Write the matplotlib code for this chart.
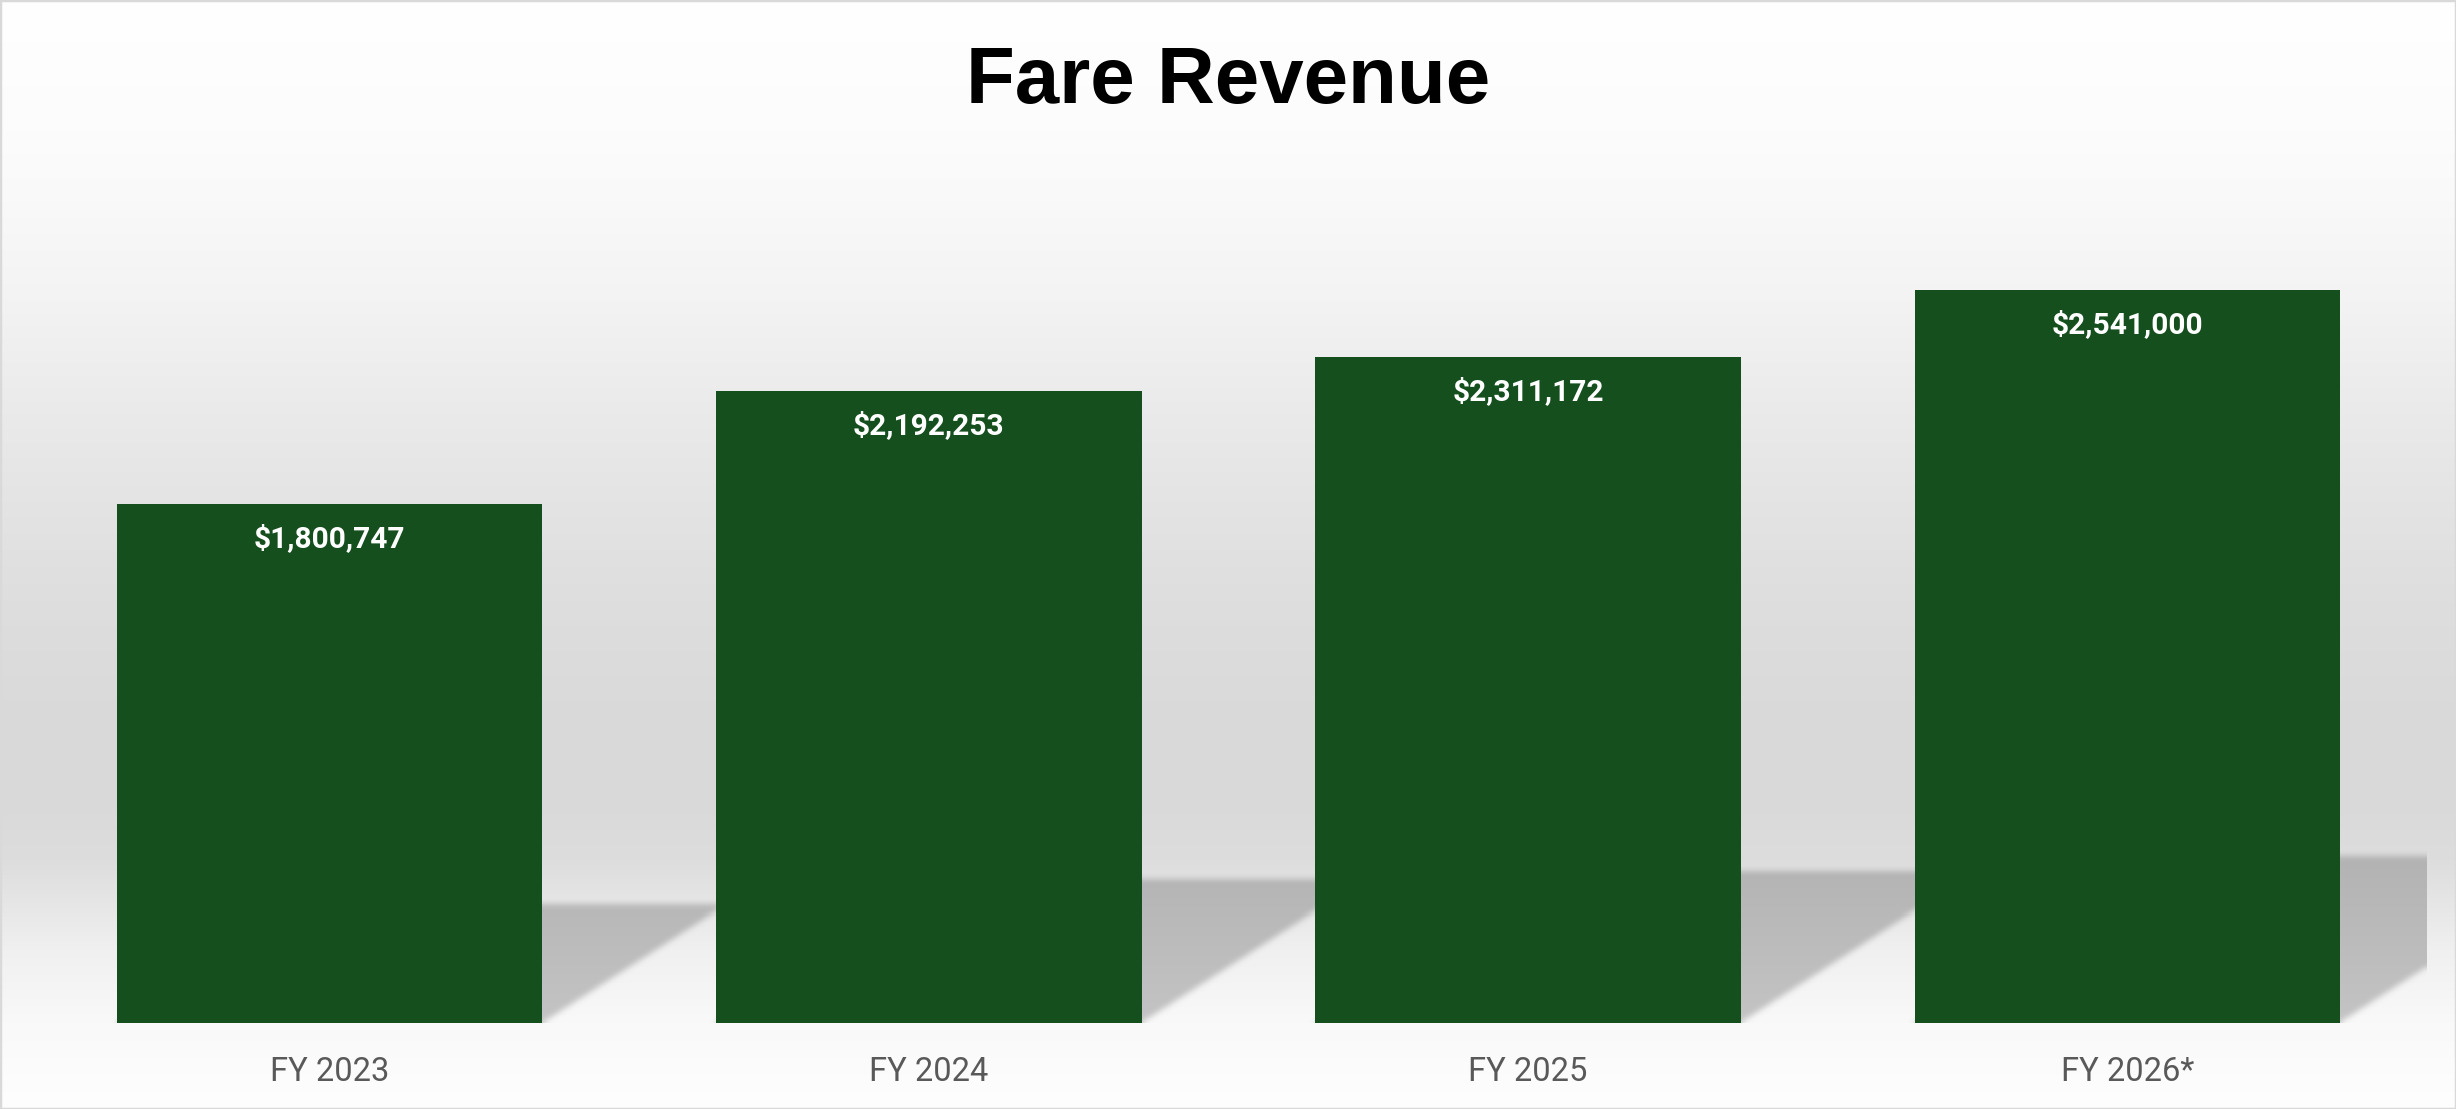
import numpy as np
import matplotlib
matplotlib.use("Agg")
import matplotlib.pyplot as plt
from matplotlib.patches import Rectangle

years = ["FY 2023", "FY 2024", "FY 2025", "FY 2026*"]
revenue = [1800747, 2192253, 2311172, 2541000]

W, H = 2456, 1109
fig = plt.figure(figsize=(W / 100, H / 100), dpi=100)

# background: white at the top, grey behind the bars, light again on the "floor"
bg = fig.add_axes([0, 0, 1, 1], zorder=0)
stops_y = [0, 40, 130, 200, 300, 400, 500, 600, 700, 800, 860, 950, 1023, 1109]
stops_v = [255, 254, 252, 249, 243, 235, 228, 222, 218, 217, 221, 240, 249, 254]
rows = np.interp(np.arange(H), stops_y, stops_v) / 255
bg_img = np.repeat(np.repeat(rows[:, None, None], 8, axis=1), 3, axis=2)
bg.imshow(bg_img, aspect="auto", extent=[0, 1, 0, 1], interpolation="nearest")
bg.axis("off")

# plot area
ax_l, ax_r, ax_top, ax_bot = 30, 2427, 158, 1023
ax = fig.add_axes([ax_l / W, (H - ax_bot) / H, (ax_r - ax_l) / W, (ax_bot - ax_top) / H], zorder=1)
ax.set_facecolor("none")
ymax = 3e6

x = np.arange(len(years))
bar_w = 0.71


def blur(a, r, axis):
    pad = [(0, 0), (0, 0)]
    pad[axis] = (r, r)
    p = np.pad(a, pad, mode="edge")
    c = np.insert(np.cumsum(p, axis=axis), 0, 0, axis=axis)
    k = 2 * r + 1
    if axis == 0:
        return (c[k:] - c[:-k]) / k
    return (c[:, k:] - c[:, :-k]) / k


# soft drop shadows cast back and to the right by each bar
px_per_val = (ax_bot - ax_top) / ymax
px_per_cat = (ax_r - ax_l) / 4
sh_len = 0.227      # shadow height as a share of bar height
sh_slope = 0.645    # rise / run of the shadow's slanted edge (pixels)
sh_top = 0.75e6
nx, ny = ax_r - ax_l, int(sh_top * px_per_val)
gx = np.linspace(-0.5, 3.5, nx)
gy = np.linspace(0, sh_top, ny)
GX, GY = np.meshgrid(gx, gy)
mask = np.zeros_like(GX)
for xi, v in zip(x, revenue):
    off = GY * px_per_val / sh_slope / px_per_cat
    inside = (GY <= v * sh_len) & (GX >= xi - bar_w / 2 + off) & (GX <= xi + bar_w / 2 + off)
    mask[inside] = 1
for _ in range(2):
    mask = blur(mask, 3, 0)
    mask = blur(mask, 3, 1)
shade = np.interp(gy, [0, 0.6e6], [196, 178]) / 255
rgba = np.zeros((ny, nx, 4))
rgba[..., 0] = rgba[..., 1] = rgba[..., 2] = shade[:, None]
rgba[..., 3] = mask
ax.imshow(rgba, origin="lower", extent=[-0.5, 3.5, 0, sh_top], aspect="auto",
          interpolation="nearest", zorder=1)
ax.set_xlim(-0.5, 3.5)
ax.set_ylim(0, ymax)

ax.bar(x, revenue, width=bar_w, color="#154F1E", zorder=3)

for xi, v in zip(x, revenue):
    ax.annotate(f"${v:,}", (xi, v), xytext=(0, -31), textcoords="offset points",
                ha="center", va="baseline", color="white", fontsize=21.5,
                fontweight="bold", family="Roboto", zorder=4)

ax.set_xticks(x, years)
ax.tick_params(axis="x", length=0, pad=23.5, labelsize=23.5, labelcolor="#595959")
for lab in ax.get_xticklabels():
    lab.set_family("Roboto")
ax.set_yticks([])
for s in ax.spines.values():
    s.set_visible(False)

fig.text(0.5, 1 - 103 / H, "Fare Revenue", ha="center", va="baseline",
         fontsize=57.5, fontweight="bold", family="Liberation Sans")

fig.patches.append(Rectangle((0, 0), 1, 1, transform=fig.transFigure, fill=False,
                             edgecolor="#d9d9d9", linewidth=2.5, zorder=10))

fig.savefig("out.png", dpi=100)
